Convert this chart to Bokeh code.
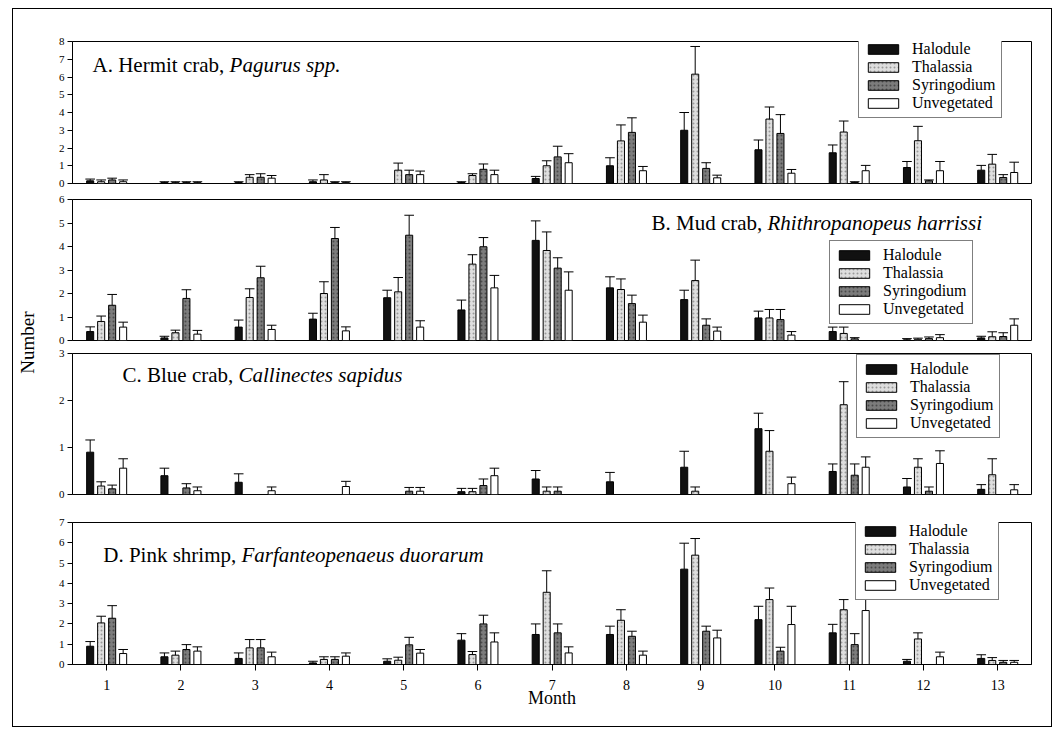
import math
from bokeh.plotting import figure
from bokeh.models import ColumnDataSource, Legend, LegendItem, Label, Range1d, FixedTicker
from bokeh.layouts import column, row
from bokeh.transform import dodge
from bokeh.embed import file_html
from bokeh.resources import INLINE

months = list(range(1, 14))
habitats = ["Halodule", "Thalassia", "Syringodium", "Unvegetated"]

# Panel A: Hermit crab (mean, mean+SE)
hermit_hal = [0.15, 0.05, 0.05, 0.1, 0.0, 0.05, 0.28, 1.0, 3.0, 1.9, 1.73, 0.9, 0.75]
hermit_hal_top = [0.25, 0.1, 0.1, 0.2, 0.0, 0.1, 0.4, 1.45, 4.0, 2.45, 2.17, 1.24, 1.02]
hermit_tha = [0.1, 0.05, 0.35, 0.2, 0.75, 0.45, 1.0, 2.4, 6.16, 3.63, 2.9, 2.41, 1.09]
hermit_tha_top = [0.2, 0.1, 0.5, 0.5, 1.15, 0.55, 1.28, 3.3, 7.72, 4.31, 3.52, 3.22, 1.64]
hermit_syr = [0.2, 0.05, 0.35, 0.05, 0.5, 0.8, 1.5, 2.88, 0.85, 2.82, 0.06, 0.15, 0.34]
hermit_syr_top = [0.3, 0.1, 0.55, 0.1, 0.75, 1.1, 2.1, 3.7, 1.17, 3.88, 0.1, 0.2, 0.5]
hermit_unv = [0.1, 0.05, 0.3, 0.05, 0.5, 0.5, 1.17, 0.72, 0.32, 0.58, 0.72, 0.72, 0.62]
hermit_unv_top = [0.2, 0.1, 0.45, 0.1, 0.7, 0.75, 1.68, 0.96, 0.47, 0.79, 1.02, 1.24, 1.2]

# Panel B: Mud crab
mud_hal = [0.38, 0.11, 0.57, 0.91, 1.82, 1.3, 4.26, 2.24, 1.74, 0.96, 0.38, 0.03, 0.11]
mud_hal_top = [0.58, 0.18, 0.87, 1.16, 2.14, 1.72, 5.09, 2.71, 2.14, 1.25, 0.57, 0.08, 0.18]
mud_tha = [0.81, 0.33, 1.83, 2.0, 2.07, 3.25, 3.83, 2.17, 2.55, 0.96, 0.3, 0.05, 0.16]
mud_tha_top = [1.04, 0.44, 2.2, 2.5, 2.68, 3.65, 4.62, 2.62, 3.42, 1.32, 0.57, 0.1, 0.37]
mud_syr = [1.5, 1.79, 2.67, 4.34, 4.48, 3.99, 3.08, 1.57, 0.65, 0.89, 0.07, 0.08, 0.17]
mud_syr_top = [1.96, 2.16, 3.16, 4.81, 5.33, 4.38, 3.52, 1.93, 0.92, 1.32, 0.12, 0.15, 0.33]
mud_unv = [0.57, 0.27, 0.47, 0.41, 0.57, 2.24, 2.14, 0.78, 0.4, 0.23, 0.0, 0.12, 0.65]
mud_unv_top = [0.78, 0.43, 0.65, 0.58, 0.84, 2.77, 2.92, 1.08, 0.57, 0.38, 0.0, 0.25, 0.92]

# Panel C: Blue crab
blue_hal = [0.9, 0.4, 0.26, 0.0, 0.0, 0.06, 0.33, 0.27, 0.58, 1.4, 0.49, 0.16, 0.11]
blue_hal_top = [1.16, 0.56, 0.44, 0.0, 0.0, 0.13, 0.51, 0.47, 0.92, 1.73, 0.65, 0.34, 0.21]
blue_tha = [0.18, 0.0, 0.0, 0.0, 0.0, 0.06, 0.07, 0.0, 0.07, 0.92, 1.91, 0.58, 0.42]
blue_tha_top = [0.27, 0.0, 0.0, 0.0, 0.0, 0.13, 0.16, 0.0, 0.16, 1.36, 2.4, 0.76, 0.76]
blue_syr = [0.12, 0.14, 0.0, 0.0, 0.07, 0.19, 0.07, 0.0, 0.0, 0.0, 0.41, 0.07, 0.0]
blue_syr_top = [0.2, 0.23, 0.0, 0.0, 0.15, 0.33, 0.16, 0.0, 0.0, 0.0, 0.65, 0.16, 0.0]
blue_unv = [0.56, 0.08, 0.08, 0.17, 0.07, 0.4, 0.0, 0.0, 0.0, 0.23, 0.58, 0.66, 0.1]
blue_unv_top = [0.76, 0.16, 0.16, 0.28, 0.15, 0.56, 0.0, 0.0, 0.0, 0.37, 0.8, 0.93, 0.21]

# Panel D: Pink shrimp
pink_hal = [0.9, 0.38, 0.3, 0.08, 0.16, 1.2, 1.48, 1.48, 4.7, 2.21, 1.56, 0.16, 0.3]
pink_hal_top = [1.13, 0.57, 0.57, 0.16, 0.28, 1.52, 2.0, 1.89, 5.98, 2.87, 1.98, 0.25, 0.48]
pink_tha = [2.05, 0.46, 0.82, 0.25, 0.21, 0.49, 3.56, 2.18, 5.39, 3.2, 2.7, 1.26, 0.2]
pink_tha_top = [2.38, 0.66, 1.23, 0.38, 0.36, 0.64, 4.62, 2.7, 6.21, 3.77, 3.2, 1.56, 0.34]
pink_syr = [2.28, 0.74, 0.82, 0.25, 0.97, 2.0, 1.56, 1.39, 1.64, 0.66, 0.98, 0.0, 0.11]
pink_syr_top = [2.9, 0.98, 1.23, 0.38, 1.34, 2.43, 2.0, 1.64, 1.89, 0.85, 1.52, 0.0, 0.2]
pink_unv = [0.54, 0.66, 0.38, 0.41, 0.56, 1.11, 0.57, 0.46, 1.31, 1.97, 2.66, 0.38, 0.11]
pink_unv_top = [0.74, 0.87, 0.61, 0.57, 0.74, 1.56, 0.87, 0.66, 1.69, 2.87, 3.23, 0.61, 0.2]

SERIF = "Liberation Serif"
fills = ["#111111", "#dedede", "#7c7c7c", "#ffffff"]
hatches = [" ", "dot", "dot", " "]
hatch_colors = ["#555555", "#9a9a9a", "#4a4a4a", "#ffffff"]
offsets = [-0.222, -0.074, 0.074, 0.222]
BAR_W = 0.095
CAP = 0.065
X0, X1 = 0.54, 13.455


def panel(series, ymax, height, btop, bbot, title_a, title_b, tpos, legend_loc, show_x):
    p = figure(width=1008, height=height, output_backend="svg", toolbar_location=None,
               x_range=Range1d(X0, X1), y_range=Range1d(0, ymax),
               min_border_left=29, min_border_right=20,
               min_border_top=btop, min_border_bottom=bbot)
    p.grid.visible = False
    p.outline_line_color = "black"
    p.outline_line_width = 1
    p.background_fill_color = "white"
    p.border_fill_color = None

    items = []
    for i, (name, (vals, tops)) in enumerate(zip(habitats, series)):
        src = ColumnDataSource(dict(month=months, val=vals, top=tops))
        r = p.vbar(x=dodge("month", offsets[i], range=p.x_range), top="val", width=BAR_W,
                   source=src, fill_color=fills[i], line_color="black", line_width=1,
                   hatch_pattern=hatches[i], hatch_color=hatch_colors[i], hatch_scale=4,
                   hatch_weight=1)
        items.append(LegendItem(label=name, renderers=[r]))
        em = [m for m, t in zip(months, tops) if t > 0]
        ev = [v for v, t in zip(vals, tops) if t > 0]
        et = [t for t in tops if t > 0]
        esrc = ColumnDataSource(dict(x=[m + offsets[i] for m in em], v=ev, t=et,
                                     xl=[m + offsets[i] - CAP for m in em],
                                     xr=[m + offsets[i] + CAP for m in em]))
        p.segment(x0="x", y0="v", x1="x", y1="t", source=esrc, line_color="black", line_width=1)
        p.segment(x0="xl", y0="t", x1="xr", y1="t", source=esrc, line_color="black", line_width=1)

    leg = Legend(items=items, location=legend_loc, orientation="vertical")
    leg.label_text_font = SERIF
    leg.label_text_font_size = "16px"
    leg.label_text_color = "black"
    leg.glyph_width = 38
    leg.glyph_height = 12
    leg.label_height = 12
    leg.label_standoff = 10
    leg.spacing = -6
    leg.padding = 5
    leg.margin = 0
    leg.border_line_color = "black"
    leg.border_line_width = 1
    leg.background_fill_alpha = 1
    p.add_layout(leg)

    p.yaxis.ticker = FixedTicker(ticks=list(range(0, ymax + 1)))
    p.yaxis.major_label_text_font = SERIF
    p.yaxis.major_label_text_font_size = "11px"
    p.yaxis.major_label_text_color = "black"
    p.yaxis.major_tick_in = 0
    p.yaxis.major_tick_out = 5
    p.yaxis.minor_tick_line_color = None
    p.yaxis.axis_line_color = "black"
    p.yaxis.major_tick_line_color = "black"
    p.yaxis.major_label_standoff = 3

    if show_x:
        p.xaxis.ticker = FixedTicker(ticks=months)
        p.xaxis.major_label_text_font = SERIF
        p.xaxis.major_label_text_font_size = "14px"
        p.xaxis.major_label_text_color = "black"
        p.xaxis.major_tick_in = 0
        p.xaxis.major_tick_out = 6
        p.xaxis.minor_tick_line_color = None
        p.xaxis.axis_line_color = "black"
        p.xaxis.major_label_standoff = 9
        p.xaxis.axis_label = "Month"
        p.xaxis.axis_label_text_font = SERIF
        p.xaxis.axis_label_text_font_style = "normal"
        p.xaxis.axis_label_text_font_size = "18px"
        p.xaxis.axis_label_text_color = "black"
        p.xaxis.axis_label_standoff = -5
    else:
        p.xaxis.visible = False

    (xb, yt) = tpos
    p.add_layout(Label(x=xb, y=yt, text=title_a, text_font=SERIF, text_font_size="21px",
                       text_color="black", text_baseline="alphabetic", text_align="right"))
    p.add_layout(Label(x=xb, y=yt, text=title_b, text_font=SERIF, text_font_size="21px",
                       text_font_style="italic", text_color="black", text_baseline="alphabetic"))
    return p


pA = panel([(hermit_hal, hermit_hal_top), (hermit_tha, hermit_tha_top),
            (hermit_syr, hermit_syr_top), (hermit_unv, hermit_unv_top)],
           8, 182, 32, 8, "A. Hermit crab, ", "Pagurus spp.", (2.655, 6.7), (786, 65), False)
pB = panel([(mud_hal, mud_hal_top), (mud_tha, mud_tha_top),
            (mud_syr, mud_syr_top), (mud_unv, mud_unv_top)],
           6, 155, 8, 6, "B. Mud crab, ", "Rhithropanopeus harrissi", (9.9, 4.98), (757, 16), False)
pC = panel([(blue_hal, blue_hal_top), (blue_tha, blue_tha_top),
            (blue_syr, blue_syr_top), (blue_unv, blue_unv_top)],
           3, 162, 7, 14, "C. Blue crab, ", "Callinectes sapidus", (2.776, 2.553), (784, 56), False)
pD = panel([(pink_hal, pink_hal_top), (pink_tha, pink_tha_top),
            (pink_syr, pink_syr_top), (pink_unv, pink_unv_top)],
           7, 216, 14, 60, "D. Pink shrimp, ", "Farfanteopenaeus duorarum", (2.816, 5.42), (783, 64), True)

# narrow side strip carrying the shared y-axis title
pN = figure(width=30, height=717, output_backend="svg", toolbar_location=None,
            x_range=Range1d(0, 1), y_range=Range1d(0, 717),
            min_border_left=0, min_border_right=0, min_border_top=0, min_border_bottom=0)
pN.axis.visible = False
pN.grid.visible = False
pN.outline_line_color = None
pN.border_fill_color = None
pN.add_layout(Label(x=0.45, y=384, text="Number", angle=math.pi / 2, text_font=SERIF,
                    text_font_size="19px", text_color="black", text_align="center",
                    text_baseline="middle"))

layout = row(pN, column(pA, pB, pC, pD, spacing=0), spacing=0,
             styles={"border": "1px solid black", "margin-left": "12px", "margin-top": "8px",
                     "background-color": "white"})

open("out.html", "w").write(file_html(layout, INLINE))
